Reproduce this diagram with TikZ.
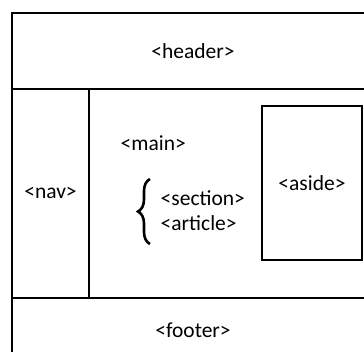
\documentclass[tikz,border=0pt]{standalone}
\usepackage{fontspec}
\setmainfont{Carlito}
\usetikzlibrary{decorations.pathreplacing}

\begin{document}
\begin{tikzpicture}[x=1pt,y=-1pt,line width=1.4pt,
    tag node/.style={font=\fontsize{21.5}{25}\selectfont,inner sep=0pt}]
  \useasboundingbox (0,0) rectangle (364,351);
  \clip (0,0) rectangle (364,351);
  % page frame and regions
  \draw (12,13) rectangle (374,366);
  \draw (12,89) -- (374,89);
  \draw (12,298) -- (374,298);
  \draw (89,89) -- (89,298);
  \draw (262,106) rectangle (362,260);
  % labels
  \node[tag node] (header) at (193,51) {<header>};
  \node[tag node] (nav) at (50.5,193) {<nav>};
  \node[tag node,anchor=west] (main) at (120,143) {<main>};
  \node[tag node,anchor=west] (section) at (160,198) {<section>};
  \node[tag node,anchor=west] (article) at (160,223) {<article>};
  \node[tag node] (aside) at (312,183) {<aside>};
  \node[tag node] (footer) at (193,330) {<footer>};
  \draw[line width=2.6pt,decorate,decoration={brace,amplitude=12pt,aspect=0.5}]
    (150,244) -- (150,179);
\end{tikzpicture}
\end{document}
